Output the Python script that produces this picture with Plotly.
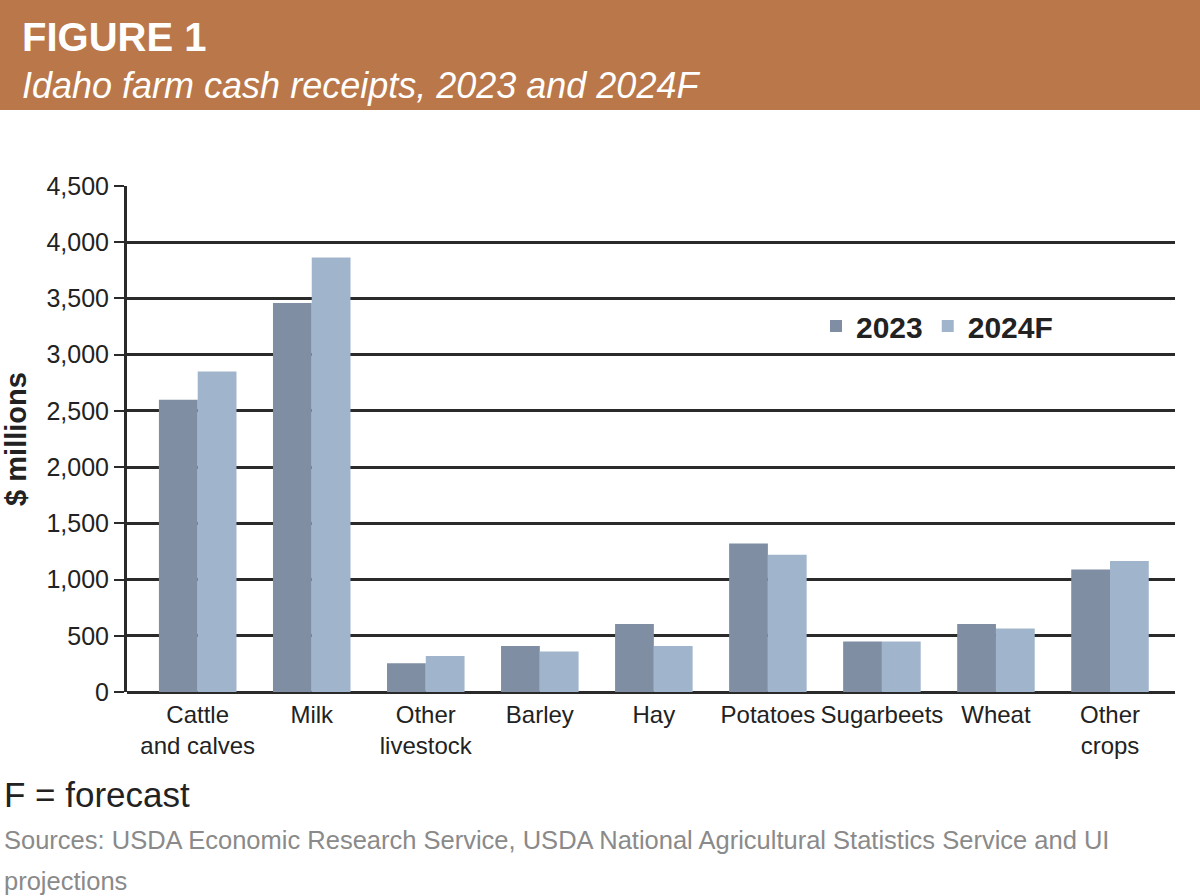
import plotly.graph_objects as go

categories = ["Cattle<br>and calves", "Milk", "Other<br>livestock", "Barley", "Hay",
              "Potatoes", "Sugarbeets", "Wheat", "Other<br>crops"]
values_2023 = [2600, 3460, 255, 410, 605, 1320, 450, 605, 1090]
values_2024f = [2850, 3865, 320, 360, 410, 1220, 450, 565, 1165]
y_ticks = [0, 500, 1000, 1500, 2000, 2500, 3000, 3500, 4000, 4500]

W, H = 1200, 896
L, R, T, B = 127, 25, 186, 204
PW, PH = W - L - R, H - T - B

def px(x):
    return (x - L) / PW

def py(y):
    return (H - B - y) / PH

FONT = "Liberation Sans Narrow, Arial Narrow, Liberation Sans, Arial, sans-serif"
C23 = "#7F8EA3"
C24 = "#A0B5CC"
BROWN = "#B9774A"
INK = "#222222"

fig = go.Figure()
fig.add_bar(x=list(range(len(categories))), y=values_2023, name="<b>2023</b>",
            marker=dict(color=C23, line=dict(width=0)))
fig.add_bar(x=list(range(len(categories))), y=values_2024f, name="<b>2024F</b>",
            marker=dict(color=C24, line=dict(width=0)))

fig.update_layout(
    width=W, height=H,
    margin=dict(l=L, r=R, t=T, b=B),
    paper_bgcolor="white", plot_bgcolor="white",
    barmode="group", bargap=0.32, bargroupgap=0,
    showlegend=True,
    legend=dict(orientation="h", x=px(816), y=py(326), xanchor="left", yanchor="middle",
                font=dict(family=FONT, size=30, color=INK),
                bgcolor="rgba(0,0,0,0)", traceorder="normal"),
    font=dict(family=FONT, color=INK),
)

fig.update_xaxes(
    range=[-0.62, 8.57],
    tickmode="array", tickvals=list(range(len(categories))), ticktext=categories,
    tickfont=dict(family=FONT, size=24, color=INK),
    ticklabelstandoff=6,
    showgrid=False, showline=False, ticks="", zeroline=False,
)
fig.update_yaxes(
    range=[0, 4500],
    tickmode="array", tickvals=y_ticks, ticktext=[f"{v:,}" for v in y_ticks],
    tickfont=dict(family=FONT, size=25, color=INK),
    showgrid=True, gridcolor="#2a2a2a", gridwidth=3,
    showline=True, linecolor="#2a2a2a", linewidth=3,
    ticks="outside", ticklen=10, tickwidth=2, tickcolor="#2a2a2a",
    zeroline=True, zerolinecolor="#2a2a2a", zerolinewidth=3,
    title=dict(text="<b>$ millions</b>", font=dict(family=FONT, size=29, color=INK),
               standoff=12),
)

# Header band
fig.add_shape(type="rect", xref="paper", yref="paper",
              x0=px(0), x1=px(W), y0=py(110), y1=py(0),
              fillcolor=BROWN, line=dict(width=0), layer="below")

fig.add_annotation(text="<b>FIGURE 1</b>", xref="paper", yref="paper",
                   x=px(20), y=py(37), xanchor="left", yanchor="middle", showarrow=False,
                   font=dict(family=FONT, size=40, color="white"))
fig.add_annotation(text="<i>Idaho farm cash receipts, 2023 and 2024F</i>", xref="paper", yref="paper",
                   x=px(20), y=py(85), xanchor="left", yanchor="middle", showarrow=False,
                   font=dict(family=FONT, size=36, color="white"))

# Footer
fig.add_annotation(text="F = forecast", xref="paper", yref="paper",
                   x=px(2), y=py(794), xanchor="left", yanchor="middle", showarrow=False,
                   font=dict(family=FONT, size=35, color=INK))
fig.add_annotation(text="Sources: USDA Economic Research Service, USDA National Agricultural Statistics Service and UI",
                   xref="paper", yref="paper",
                   x=px(2), y=py(840), xanchor="left", yanchor="middle", showarrow=False,
                   font=dict(family=FONT, size=25.5, color="#8a8a8a"))
fig.add_annotation(text="projections", xref="paper", yref="paper",
                   x=px(2), y=py(881), xanchor="left", yanchor="middle", showarrow=False,
                   font=dict(family=FONT, size=25.5, color="#8a8a8a"))

fig.write_html("out.html", config={"displayModeBar": False},
               post_script="document.body.style.margin='0';document.body.style.padding='0';")
